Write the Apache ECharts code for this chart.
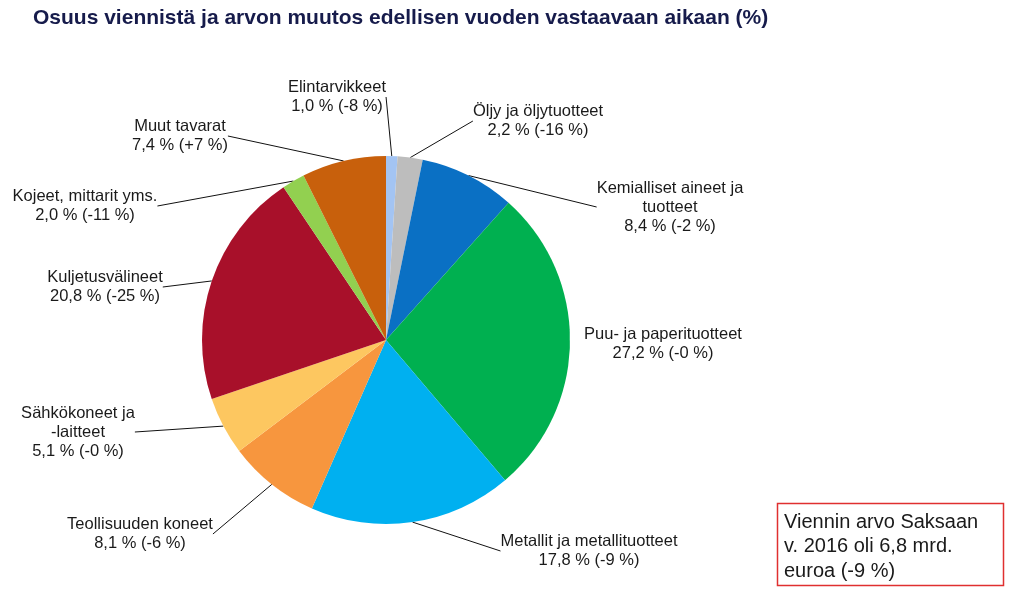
<!DOCTYPE html>
<html><head><meta charset="utf-8">
<script src="https://cdn.jsdelivr.net/npm/echarts@6/dist/echarts.min.js"></script>
<style>html,body{margin:0;padding:0;background:#fff}#c{width:1024px;height:591px}</style>
</head><body><div id="c"></div>
<script>
var categories = ['Elintarvikkeet','Öljy ja öljytuotteet','Kemialliset aineet ja\ntuotteet','Puu- ja paperituotteet','Metallit ja metallituotteet','Teollisuuden koneet','Sähkökoneet ja\n-laitteet','Kuljetusvälineet','Kojeet, mittarit yms.','Muut tavarat'];
var shares = [1.0, 2.2, 8.4, 27.2, 17.8, 8.1, 5.1, 20.8, 2.0, 7.4];
var changes = ['-8','-16','-2','-0','-9','-6','-0','-25','-11','+7'];
var colors = ['#a3c4f3','#bdbdbd','#0a70c4','#00b050','#00b0f0','#f7963e','#fdc760','#a8102a','#92d050','#c8600c'];
// label centres (layout only)
var labelPos = [[337,97],[538,121],[670,207],[663,344],[589,551],[140,534],[78,432],[105,287],[85,206],[180,136]];
var showLine = [true,true,true,false,true,true,true,true,true,true];

var data = categories.map(function(n,i){
  return {name:n, value:shares[i], itemStyle:{color:colors[i]}, labelLine:{show:showLine[i]}};
});
var chart = echarts.init(document.getElementById('c'));
chart.setOption({
  animation:false,
  title:{text:'Osuus viennistä ja arvon muutos edellisen vuoden vastaavaan aikaan (%)', left:28, top:3,
    textStyle:{fontFamily:'Liberation Sans, Arial', fontWeight:'bold', fontSize:21, color:'#161b4b'}},
  graphic:[
    {type:'rect', shape:{x:777.5,y:503.5,width:226,height:82}, style:{fill:'#fff',stroke:'#e03030',lineWidth:1.5}},
    {type:'text', left:784, top:510, style:{text:'Viennin arvo Saksaan\nv. 2016 oli 6,8 mrd.\neuroa (-9 %)', font:'20px Liberation Sans, Arial', lineHeight:24.5, fill:'#1a1a1a'}}
  ],
  series:[{
    type:'pie', center:[386,340], radius:184, startAngle:90, clockwise:true,
    data:data,
    label:{show:true, color:'#1a1a1a', fontFamily:'Liberation Sans, Arial', fontSize:16.5, lineHeight:19, align:'center',
      formatter:function(p){ var i=p.dataIndex; return categories[i]+'\n'+shares[i].toFixed(1).replace('.',',')+' % ('+changes[i]+' %)'; }},
    labelLine:{show:true, length:10, length2:0, lineStyle:{color:'#111',width:1}},
    labelLayout:function(p){ var pos=labelPos[p.dataIndex]; return {x:pos[0], y:pos[1], align:'center', verticalAlign:'middle'}; },
    emphasis:{disabled:true}
  }]
});
</script></body></html>
